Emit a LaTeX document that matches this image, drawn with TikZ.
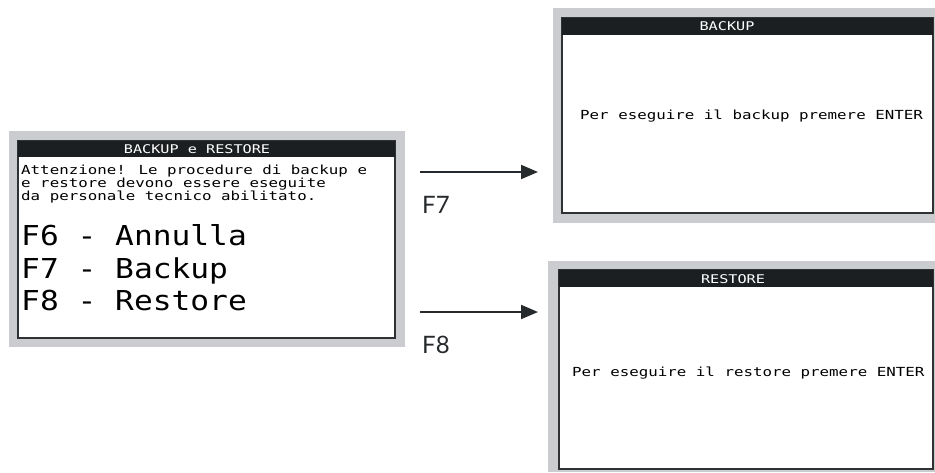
\documentclass[tikz,border=0pt]{standalone}
\usepackage{fontspec}
\usetikzlibrary{arrows.meta}
\newfontfamily\lcdsmall[FakeStretch=1.265]{DejaVu Sans Mono}
\newfontfamily\lcdbig[FakeStretch=1.14]{DejaVu Sans Mono}
\newfontfamily\labelfont{Lato}
\definecolor{framegray}{HTML}{CBCCD0}
\definecolor{bordergray}{HTML}{2E3233}
\definecolor{barblack}{HTML}{1C1F21}
\definecolor{arrowcol}{HTML}{262A2C}
\begin{document}
\begin{tikzpicture}[x=1pt,y=-1pt,
  frame/.style={fill=framegray,draw=none},
  screen/.style={fill=white,draw=bordergray,line width=1.6pt},
  bar/.style={fill=barblack,draw=none},
  small/.style={inner sep=0pt,anchor=base west,font=\lcdsmall\fontsize{12.5}{13}\selectfont,text=black},
  title/.style={inner sep=0pt,anchor=base,font=\lcdsmall\fontsize{12}{13}\selectfont,text=white},
  big/.style={inner sep=0pt,anchor=base west,font=\lcdbig\fontsize{27.4}{30}\selectfont,text=black},
  keylabel/.style={inner sep=0pt,anchor=base west,font=\labelfont\fontsize{24}{28}\selectfont,text=arrowcol},
  conn/.style={draw=arrowcol,line width=2pt,-{Triangle[length=17pt,width=14pt]}}]
\useasboundingbox (0,0) rectangle (935,472);
% left panel
\fill[frame] (9,131) rectangle (405,347);
\draw[screen] (18,141) rectangle (395,338);
\fill[bar] (18,141) rectangle (395,157);
\node[title] (t1) at (197,153.5) {BACKUP e RESTORE};
\node[small] (l1) at (21,174) {Attenzione! Le procedure di backup e};
\node[small] (l2) at (21,187) {e restore devono essere eseguite};
\node[small] (l3) at (21,200) {da personale tecnico abilitato.};
\node[big] (b1) at (21,245) {F6 - Annulla};
\node[big] (b2) at (21,278) {F7 - Backup};
\node[big] (b3) at (21,310) {F8 - Restore};
% top right panel
\fill[frame] (553,8) rectangle (935,223);
\draw[screen] (562,18) rectangle (933,213);
\fill[bar] (562,18) rectangle (933,35);
\node[title] (t2) at (727,30.5) {BACKUP};
\node[small] (r1) at (580,119) {Per eseguire il backup premere ENTER};
% bottom right panel
\fill[frame] (548,261) rectangle (935,472);
\draw[screen] (559,270) rectangle (933,469);
\fill[bar] (559,270) rectangle (933,287);
\node[title] (t3) at (733,283.5) {RESTORE};
\node[small] (r2) at (572,376) {Per eseguire il restore premere ENTER};
% connectors
\coordinate (s7) at (420,172);
\coordinate (e7) at (538,172);
\coordinate (s8) at (420,312);
\coordinate (e8) at (538,312);
\draw[conn] (s7) -- (e7);
\draw[conn] (s8) -- (e8);
\node[keylabel] (k7) at (422,213) {F7};
\node[keylabel] (k8) at (422,353) {F8};
\end{tikzpicture}
\end{document}
